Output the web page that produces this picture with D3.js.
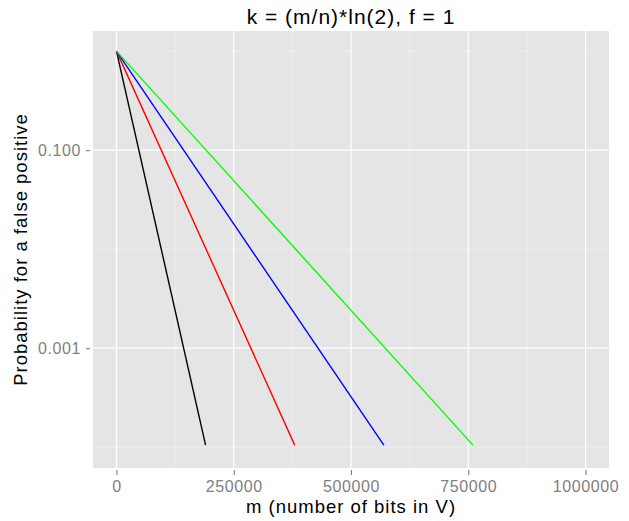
<!DOCTYPE html>
<html>
<head>
<meta charset="utf-8">
<script src="https://cdn.jsdelivr.net/npm/d3@7"></script>
<style>
  body { margin: 0; background: #fff; }
  text { font-family: "Liberation Sans", Arial, sans-serif; }
</style>
</head>
<body>
<svg id="chart" width="629" height="521"></svg>
<script>
// Series: n values and colours, each line runs from m = 0 to its end point
const seriesNames = ['n = 10000', 'n = 20000', 'n = 30000', 'n = 40000'];
const seriesColors = ['#000000', '#ff0000', '#0000ff', '#00ff00'];
const startM = [0, 0, 0, 0];
const startP = [1, 1, 1, 1];
const endM = [190000, 380000, 570000, 760000];
const endP = [1.05e-4, 1.05e-4, 1.05e-4, 1.05e-4];

// Axis breaks
const xBreaks = [0, 250000, 500000, 750000, 1000000];
const xMinor = [125000, 375000, 625000, 875000];
const yBreaks = [0.1, 0.001];
const yLabels = ['0.100', '0.001'];
const yMinor = [1, 0.01, 0.0001];

const svg = d3.select('#chart');
const margin = { top: 31, right: 20, bottom: 53, left: 93 };
const width = 629 - margin.left - margin.right;
const height = 521 - margin.top - margin.bottom;

const x = d3.scaleLinear()
  .domain([-50000, 1050000])
  .range([0, width]);

const y = d3.scaleLog()
  .domain([Math.pow(10, -4.21), Math.pow(10, 0.203)])
  .range([height, 0]);

const g = svg.append('g')
  .attr('transform', `translate(${margin.left},${margin.top})`);

// Panel background
g.append('rect')
  .attr('width', width)
  .attr('height', height)
  .attr('fill', '#e5e5e5');

// Minor grid
g.selectAll('.minor-x').data(xMinor).enter()
  .append('line')
    .attr('x1', d => x(d)).attr('x2', d => x(d))
    .attr('y1', 0).attr('y2', height)
    .attr('stroke', '#f2f2f2').attr('stroke-width', 0.6);

g.selectAll('.minor-y').data(yMinor).enter()
  .append('line')
    .attr('x1', 0).attr('x2', width)
    .attr('y1', d => y(d)).attr('y2', d => y(d))
    .attr('stroke', '#f2f2f2').attr('stroke-width', 0.6);

// Major grid
g.selectAll('.major-x').data(xBreaks).enter()
  .append('line')
    .attr('x1', d => x(d)).attr('x2', d => x(d))
    .attr('y1', 0).attr('y2', height)
    .attr('stroke', '#ffffff').attr('stroke-width', 1.2);

g.selectAll('.major-y').data(yBreaks).enter()
  .append('line')
    .attr('x1', 0).attr('x2', width)
    .attr('y1', d => y(d)).attr('y2', d => y(d))
    .attr('stroke', '#ffffff').attr('stroke-width', 1.2);

// Lines
const lineData = seriesNames.map((name, i) => ({
  name,
  color: seriesColors[i],
  points: [[startM[i], startP[i]], [endM[i], endP[i]]]
}));

const line = d3.line()
  .x(d => x(d[0]))
  .y(d => y(d[1]));

g.selectAll('.series').data(lineData).enter()
  .append('path')
    .attr('d', d => line(d.points))
    .attr('fill', 'none')
    .attr('stroke', d => d.color)
    .attr('stroke-width', 1.4);

// Axes
const xAxis = d3.axisBottom(x)
  .tickValues(xBreaks)
  .tickFormat(d3.format('d'))
  .tickSize(5)
  .tickPadding(6);

const yAxis = d3.axisLeft(y)
  .tickValues(yBreaks)
  .tickFormat((d, i) => yLabels[i])
  .tickSize(4)
  .tickPadding(5);

const styleAxis = (sel) => {
  sel.select('.domain').remove();
  sel.selectAll('line').attr('stroke', '#7f7f7f').attr('stroke-width', 1.1);
  sel.selectAll('text')
    .attr('fill', '#7f7f7f')
    .style('font-size', '16px')
    .style('letter-spacing', '0.6px')
    .style('font-family', '"Liberation Sans", Arial, sans-serif');
};

g.append('g')
  .attr('transform', `translate(0,${height + 2})`)
  .call(xAxis)
  .call(styleAxis);

g.append('g')
  .attr('transform', 'translate(-3,0)')
  .call(yAxis)
  .call(styleAxis);

// Title and axis titles
svg.append('text')
  .attr('x', margin.left + width / 2)
  .attr('y', 24)
  .attr('text-anchor', 'middle')
  .style('font-size', '21px')
  .style('letter-spacing', '1px')
  .text('k = (m/n)*ln(2), f = 1');

svg.append('text')
  .attr('x', margin.left + width / 2)
  .attr('y', 513)
  .attr('text-anchor', 'middle')
  .style('font-size', '18.5px')
  .style('letter-spacing', '1px')
  .text('m (number of bits in V)');

svg.append('text')
  .attr('transform', `translate(27,${margin.top + height / 2}) rotate(-90)`)
  .attr('text-anchor', 'middle')
  .style('font-size', '18.5px')
  .style('letter-spacing', '1px')
  .text('Probability for a false positive');
</script>
</body>
</html>
